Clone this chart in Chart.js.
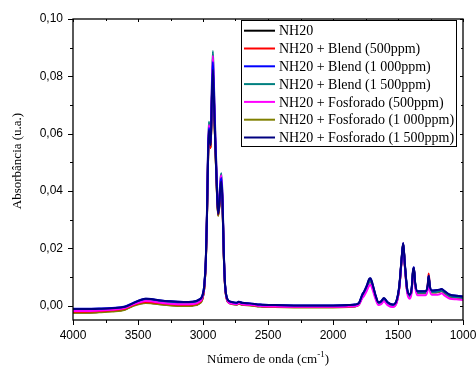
<!DOCTYPE html>
<html lang="pt">
<head>
    <meta charset="UTF-8">
    <title>FTIR NH20</title>
    <script src="https://cdn.jsdelivr.net/npm/chart.js"></script>
    <style>
        body { margin: 0; background: #fff; }
        canvas { display: block; }
    </style>
</head>
<body>
    <canvas id="chart" width="476" height="367"></canvas>

    <script>
        // wavenumbers (cm-1), shared by all spectra
        const wavenumbers = [4000, 3900, 3800, 3700, 3600, 3540, 3480, 3440, 3400, 3340, 3250, 3150, 3080, 3030, 3005,
            2990, 2978, 2970, 2962, 2955, 2948, 2941, 2933, 2924, 2916, 2906, 2895, 2884, 2875, 2866, 2859, 2850, 2840, 2830, 2818, 2800,
            2770, 2740, 2725, 2700, 2640, 2560, 2450, 2300, 2150, 2000, 1880, 1830,
            1800, 1775, 1760, 1740, 1722, 1712, 1695, 1675, 1650, 1630, 1608, 1580, 1540, 1510, 1490, 1473, 1460, 1448, 1430, 1410,
            1395, 1385, 1378, 1368, 1350, 1320, 1290, 1272, 1264, 1255, 1240, 1210, 1180, 1165, 1140, 1100, 1050, 1000];

        const nh20 = [-0.0024, -0.0024, -0.0022, -0.0019, -0.0013, 0.0000, 0.0008, 0.0010, 0.0009, 0.0006, 0.0002, 0.0000, 0.0001, 0.0008, 0.0023,
            0.0062, 0.0155, 0.0295, 0.0492, 0.0600, 0.0580, 0.0552, 0.0695, 0.0820, 0.0718, 0.0566, 0.0425, 0.0315, 0.0345, 0.0410, 0.0430, 0.0355, 0.0176, 0.0066, 0.0025, 0.0010,
            0.0006, 0.0004, 0.0008, 0.0004, 0.0002, -0.0002, -0.0004, -0.0005, -0.0005, -0.0005, -0.0004, -0.0002,
            0.0005, 0.0032, 0.0044, 0.0064, 0.0086, 0.0089, 0.0068, 0.0034, 0.0006, 0.0009, 0.0020, 0.0006, -0.0002, 0.0014, 0.0064, 0.0155, 0.0215, 0.0145, 0.0054, 0.0032,
            0.0054, 0.0114, 0.0129, 0.0074, 0.0044, 0.0044, 0.0044, 0.0062, 0.0100, 0.0062, 0.0047, 0.0047, 0.0049, 0.0052, 0.0044, 0.0032, 0.0029, 0.0026];

        const blend500 = [-0.0021, -0.0021, -0.0019, -0.0016, -0.0010, 0.0002, 0.0011, 0.0013, 0.0012, 0.0009, 0.0005, 0.0003, 0.0004, 0.0011, 0.0026,
            0.0064, 0.0157, 0.0298, 0.0490, 0.0595, 0.0575, 0.0550, 0.0698, 0.0825, 0.0722, 0.0570, 0.0428, 0.0318, 0.0348, 0.0415, 0.0435, 0.0360, 0.0178, 0.0067, 0.0026, 0.0011,
            0.0007, 0.0005, 0.0009, 0.0005, 0.0003, -0.0001, -0.0003, -0.0004, -0.0004, -0.0004, -0.0003, -0.0001,
            0.0006, 0.0033, 0.0045, 0.0065, 0.0087, 0.0090, 0.0069, 0.0035, 0.0007, 0.0010, 0.0021, 0.0007, -0.0001, 0.0015, 0.0065, 0.0157, 0.0218, 0.0147, 0.0055, 0.0033,
            0.0055, 0.0116, 0.0131, 0.0075, 0.0045, 0.0045, 0.0046, 0.0070, 0.0112, 0.0066, 0.0048, 0.0048, 0.0050, 0.0053, 0.0045, 0.0033, 0.0030, 0.0027];

        const blend1000 = [-0.0011, -0.0011, -0.0010, -0.0008, -0.0003, 0.0009, 0.0020, 0.0024, 0.0023, 0.0019, 0.0015, 0.0013, 0.0014, 0.0021, 0.0035,
            0.0072, 0.0163, 0.0305, 0.0508, 0.0620, 0.0597, 0.0565, 0.0715, 0.0850, 0.0745, 0.0588, 0.0440, 0.0325, 0.0357, 0.0425, 0.0445, 0.0370, 0.0185, 0.0072, 0.0031, 0.0016,
            0.0012, 0.0010, 0.0014, 0.0010, 0.0008, 0.0004, 0.0002, 0.0001, 0.0001, 0.0001, 0.0002, 0.0004,
            0.0010, 0.0038, 0.0050, 0.0070, 0.0092, 0.0095, 0.0074, 0.0040, 0.0012, 0.0015, 0.0026, 0.0012, 0.0004, 0.0020, 0.0070, 0.0160, 0.0219, 0.0150, 0.0060, 0.0038,
            0.0060, 0.0120, 0.0134, 0.0080, 0.0050, 0.0050, 0.0050, 0.0068, 0.0104, 0.0068, 0.0053, 0.0054, 0.0056, 0.0058, 0.0050, 0.0038, 0.0035, 0.0032];

        const blend1500 = [-0.0015, -0.0015, -0.0014, -0.0012, -0.0006, 0.0006, 0.0016, 0.0019, 0.0018, 0.0015, 0.0011, 0.0009, 0.0010, 0.0017, 0.0032,
            0.0070, 0.0165, 0.0315, 0.0525, 0.0642, 0.0615, 0.0580, 0.0745, 0.0888, 0.0775, 0.0610, 0.0455, 0.0335, 0.0370, 0.0440, 0.0462, 0.0385, 0.0190, 0.0072, 0.0030, 0.0014,
            0.0010, 0.0008, 0.0012, 0.0008, 0.0006, 0.0002, 0.0000, -0.0001, -0.0001, -0.0001, 0.0000, 0.0002,
            0.0008, 0.0033, 0.0044, 0.0062, 0.0084, 0.0087, 0.0067, 0.0035, 0.0008, 0.0011, 0.0022, 0.0008, 0.0000, 0.0016, 0.0066, 0.0156, 0.0215, 0.0146, 0.0055, 0.0033,
            0.0055, 0.0115, 0.0130, 0.0075, 0.0045, 0.0045, 0.0045, 0.0063, 0.0100, 0.0063, 0.0048, 0.0048, 0.0050, 0.0052, 0.0045, 0.0033, 0.0030, 0.0027];

        const fosf500 = [-0.0019, -0.0019, -0.0017, -0.0014, -0.0008, 0.0004, 0.0013, 0.0016, 0.0015, 0.0011, 0.0007, 0.0005, 0.0006, 0.0013, 0.0028,
            0.0066, 0.0160, 0.0308, 0.0515, 0.0630, 0.0605, 0.0572, 0.0733, 0.0872, 0.0762, 0.0600, 0.0448, 0.0330, 0.0365, 0.0435, 0.0455, 0.0378, 0.0185, 0.0068, 0.0026, 0.0010,
            0.0007, 0.0005, 0.0009, 0.0005, 0.0003, -0.0001, -0.0003, -0.0004, -0.0004, -0.0004, -0.0003, -0.0002,
            0.0004, 0.0026, 0.0035, 0.0052, 0.0070, 0.0073, 0.0055, 0.0026, 0.0002, 0.0005, 0.0015, 0.0002, -0.0005, 0.0010, 0.0060, 0.0150, 0.0212, 0.0140, 0.0047, 0.0024,
            0.0046, 0.0106, 0.0126, 0.0068, 0.0036, 0.0036, 0.0036, 0.0054, 0.0094, 0.0054, 0.0038, 0.0038, 0.0040, 0.0043, 0.0035, 0.0024, 0.0022, 0.0020];

        const fosf1000 = [-0.0025, -0.0025, -0.0023, -0.0020, -0.0014, -0.0001, 0.0007, 0.0009, 0.0008, 0.0005, 0.0001, -0.0001, 0.0000, 0.0007, 0.0022,
            0.0061, 0.0153, 0.0292, 0.0488, 0.0600, 0.0578, 0.0550, 0.0692, 0.0818, 0.0715, 0.0563, 0.0422, 0.0313, 0.0342, 0.0408, 0.0428, 0.0352, 0.0174, 0.0065, 0.0024, 0.0009,
            0.0005, 0.0003, 0.0007, 0.0003, 0.0001, -0.0003, -0.0005, -0.0006, -0.0006, -0.0006, -0.0005, -0.0003,
            0.0004, 0.0031, 0.0043, 0.0063, 0.0085, 0.0088, 0.0067, 0.0033, 0.0005, 0.0008, 0.0019, 0.0005, -0.0003, 0.0013, 0.0063, 0.0154, 0.0214, 0.0144, 0.0053, 0.0031,
            0.0053, 0.0113, 0.0128, 0.0073, 0.0043, 0.0043, 0.0043, 0.0061, 0.0099, 0.0061, 0.0046, 0.0046, 0.0048, 0.0051, 0.0043, 0.0031, 0.0028, 0.0025];

        const fosf1500 = [-0.0012, -0.0012, -0.0011, -0.0009, -0.0004, 0.0008, 0.0020, 0.0024, 0.0023, 0.0019, 0.0015, 0.0013, 0.0014, 0.0021, 0.0034,
            0.0070, 0.0160, 0.0300, 0.0500, 0.0612, 0.0590, 0.0560, 0.0700, 0.0822, 0.0720, 0.0570, 0.0430, 0.0320, 0.0350, 0.0415, 0.0433, 0.0360, 0.0180, 0.0070, 0.0030, 0.0016,
            0.0012, 0.0010, 0.0014, 0.0010, 0.0008, 0.0004, 0.0002, 0.0001, 0.0001, 0.0001, 0.0002, 0.0004,
            0.0010, 0.0038, 0.0050, 0.0070, 0.0093, 0.0096, 0.0075, 0.0040, 0.0012, 0.0015, 0.0027, 0.0012, 0.0004, 0.0020, 0.0070, 0.0160, 0.0218, 0.0150, 0.0060, 0.0038,
            0.0060, 0.0120, 0.0133, 0.0080, 0.0050, 0.0050, 0.0050, 0.0070, 0.0104, 0.0068, 0.0053, 0.0054, 0.0056, 0.0058, 0.0050, 0.0038, 0.0035, 0.0032];

        const seriesNames = ['NH20', 'NH20 + Blend (500ppm)', 'NH20 + Blend (1 000ppm)', 'NH20 + Blend (1 500ppm)',
            'NH20 + Fosforado (500ppm)', 'NH20 + Fosforado (1 000ppm)', 'NH20 + Fosforado (1 500ppm)'];
        const seriesValues = [nh20, blend500, blend1000, blend1500, fosf500, fosf1000, fosf1500];
        const seriesColors = ['#000000', '#ff0000', '#0000ff', '#008080', '#ff00ff', '#808000', '#000080'];
        // lower order = drawn on top (navy on top, as in the original)
        const seriesOrder = [6, 4, 1, 3, 2, 5, 0];

        const xTicks = [4000, 3500, 3000, 2500, 2000, 1500, 1000];
        const xMinor = [3750, 3250, 2750, 2250, 1750, 1250];
        const yTicks = [0, 0.02, 0.04, 0.06, 0.08, 0.10];
        const yMinor = [0.01, 0.03, 0.05, 0.07, 0.09];

        const serif = '"Liberation Serif", "Times New Roman", serif';
        const sans = '"Liberation Sans", Arial, sans-serif';

        // frame, ticks, axis titles and legend in the Origin look
        const originPlugin = {
            id: 'origin',
            afterDraw(chart) {
                const { ctx, chartArea: a, scales: { x, y } } = chart;
                ctx.save();
                ctx.strokeStyle = '#000';
                ctx.lineWidth = 1.3;
                ctx.strokeRect(a.left, a.top, a.right - a.left, a.bottom - a.top);

                ctx.lineWidth = 1;
                ctx.beginPath();
                const tickX = (v, len, topLen) => {
                    const px = Math.round(x.getPixelForValue(v)) + 0.5;
                    ctx.moveTo(px, a.bottom); ctx.lineTo(px, a.bottom + len);
                    ctx.moveTo(px, a.top); ctx.lineTo(px, a.top + topLen);
                };
                const tickY = (v, len, rightLen) => {
                    const py = Math.round(y.getPixelForValue(v)) + 0.5;
                    ctx.moveTo(a.left, py); ctx.lineTo(a.left - len, py);
                    ctx.moveTo(a.right, py); ctx.lineTo(a.right - rightLen, py);
                };
                xTicks.forEach(v => tickX(v, 5, 3));
                xMinor.forEach(v => tickX(v, 3, 2));
                yTicks.forEach(v => tickY(v, 5, 3));
                yMinor.forEach(v => tickY(v, 3, 2));
                ctx.stroke();

                // axis titles
                ctx.fillStyle = '#000';
                ctx.textBaseline = 'alphabetic';
                ctx.textAlign = 'left';
                const t1 = 'Número de onda (cm';
                ctx.font = '13px ' + serif;
                const w1 = ctx.measureText(t1).width;
                ctx.font = '9px ' + serif;
                const w2 = ctx.measureText('-1').width;
                ctx.font = '13px ' + serif;
                const w3 = ctx.measureText(')').width;
                const tx = (a.left + a.right) / 2 - (w1 + w2 + w3) / 2;
                ctx.fillText(t1, tx, 363);
                ctx.font = '9px ' + serif;
                ctx.fillText('-1', tx + w1, 357);
                ctx.font = '13px ' + serif;
                ctx.fillText(')', tx + w1 + w2, 363);

                ctx.save();
                ctx.translate(21, 161);
                ctx.rotate(-Math.PI / 2);
                ctx.textAlign = 'center';
                ctx.fillText('Absorbância (u.a.)', 0, 0);
                ctx.restore();

                // legend box
                ctx.fillStyle = '#fff';
                ctx.fillRect(241, 20, 215, 126);
                ctx.strokeStyle = '#000';
                ctx.lineWidth = 1;
                ctx.strokeRect(241.5, 20.5, 215, 126);
                ctx.font = '14px ' + serif;
                ctx.textBaseline = 'middle';
                ctx.textAlign = 'left';
                seriesNames.forEach((name, i) => {
                    const ry = 30.7 + i * 17.8;
                    ctx.strokeStyle = seriesColors[i];
                    ctx.lineWidth = 2;
                    ctx.beginPath();
                    ctx.moveTo(244, ry); ctx.lineTo(275, ry);
                    ctx.stroke();
                    ctx.fillStyle = '#000';
                    ctx.fillText(name, 279, ry + 1);
                });
                ctx.restore();
            }
        };

        new Chart(document.getElementById('chart').getContext('2d'), {
            type: 'line',
            data: {
                datasets: seriesNames.map((name, i) => ({
                    label: name,
                    data: wavenumbers.map((w, k) => ({ x: w, y: seriesValues[i][k] })),
                    borderColor: seriesColors[i],
                    borderWidth: 2,
                    pointRadius: 0,
                    cubicInterpolationMode: 'monotone',
                    order: seriesOrder[i]
                }))
            },
            options: {
                responsive: false,
                animation: false,
                devicePixelRatio: 1,
                layout: { padding: { top: 19, right: 13, left: 0, bottom: 0 } },
                plugins: {
                    legend: { display: false },
                    tooltip: { enabled: false }
                },
                scales: {
                    x: {
                        type: 'linear',
                        reverse: true,
                        min: 1000,
                        max: 4000,
                        grid: { display: false, drawTicks: false },
                        border: { display: false },
                        afterBuildTicks: s => { s.ticks = xTicks.map(v => ({ value: v })); },
                        afterFit: s => { s.height = 47; s.paddingLeft = 0; s.paddingRight = 0; },
                        ticks: {
                            color: '#000',
                            font: { family: sans, size: 12 },
                            padding: 8,
                            maxRotation: 0,
                            callback: v => String(v)
                        }
                    },
                    y: {
                        min: -0.005,
                        max: 0.10,
                        grid: { display: false, drawTicks: false },
                        border: { display: false },
                        afterBuildTicks: s => { s.ticks = yTicks.map(v => ({ value: v })); },
                        afterFit: s => { s.width = 73; s.paddingTop = 0; s.paddingBottom = 0; },
                        ticks: {
                            color: '#000',
                            font: { family: sans, size: 12 },
                            padding: 10,
                            callback: v => v.toFixed(2).replace('.', ',')
                        }
                    }
                }
            },
            plugins: [originPlugin]
        });
    </script>
</body>
</html>
